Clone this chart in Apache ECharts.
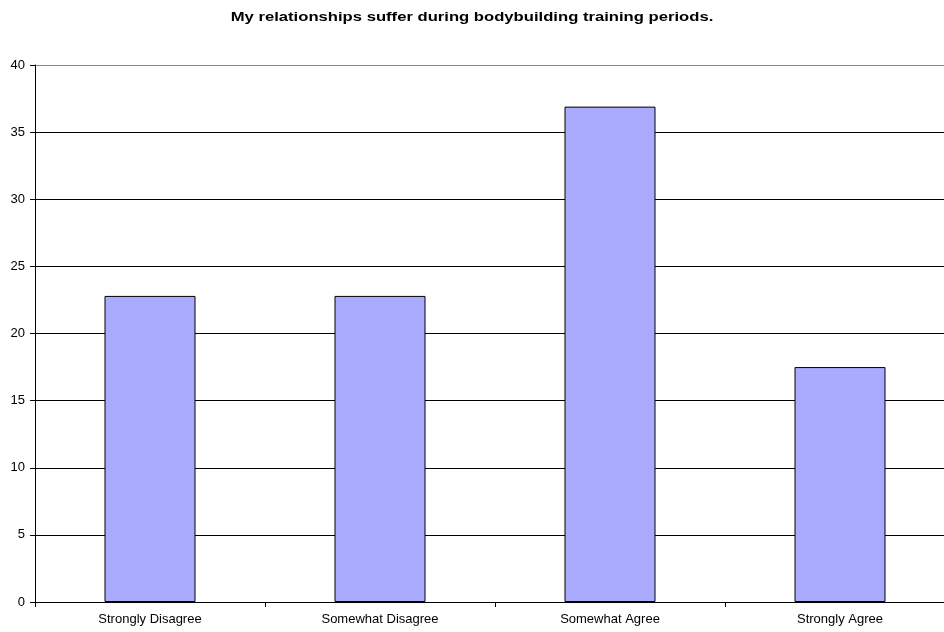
<!DOCTYPE html>
<html>
<head>
<meta charset="utf-8">
<script src="https://cdn.jsdelivr.net/npm/echarts@6/dist/echarts.min.js"></script>
<style>
  html, body { margin: 0; padding: 0; background: #fff; }
  #chart { width: 944px; height: 632px; }
</style>
</head>
<body>
<div id="chart"></div>
<script>
// Survey responses (percent of respondents)
const titleText = 'My relationships suffer during bodybuilding training periods.';
const categories = ['Strongly Disagree', 'Somewhat Disagree', 'Somewhat Agree', 'Strongly Agree'];
const percentages = [22.8, 22.8, 36.9, 17.5];
const yTicks = [0, 5, 10, 15, 20, 25, 30, 35, 40];

const FONT = 'Liberation Sans, Arial, sans-serif';
const chart = echarts.init(document.getElementById('chart'), null, { renderer: 'canvas' });

chart.setOption({
  animation: false,
  backgroundColor: '#ffffff',
  // Title drawn as a slightly widened text element
  graphic: [{
    type: 'text',
    x: 472,
    y: 17,
    scaleX: 1.28,
    style: {
      text: titleText,
      font: 'bold 13px ' + FONT,
      fill: '#000',
      align: 'center',
      verticalAlign: 'middle'
    }
  }],
  // plot area runs a little past the right edge of the canvas
  grid: { left: 35, width: 920, top: 65, bottom: 30, containLabel: false, outerBoundsMode: 'none' },
  xAxis: {
    type: 'category',
    data: categories,
    axisLine: { show: true, lineStyle: { color: '#000', width: 1 } },
    axisTick: { show: true, alignWithLabel: false, length: 5, lineStyle: { color: '#000' } },
    axisLabel: {
      color: '#000',
      fontFamily: FONT,
      fontSize: 13,
      margin: 11
    }
  },
  yAxis: {
    type: 'value',
    min: yTicks[0],
    max: yTicks[yTicks.length - 1],
    interval: 5,
    axisLine: { show: true, lineStyle: { color: '#000', width: 1 } },
    axisTick: { show: true, inside: false, length: 5, lineStyle: { color: '#000' } },
    axisLabel: {
      color: '#000',
      fontFamily: FONT,
      fontSize: 13,
      margin: 10
    },
    splitLine: {
      show: true,
      lineStyle: {
        color: ['#000', '#000', '#000', '#000', '#000', '#000', '#000', '#000', '#888'],
        width: 1
      }
    }
  },
  series: [{
    type: 'bar',
    data: percentages,
    barWidth: 91,
    itemStyle: {
      color: '#AAAAFF',
      borderColor: '#000',
      borderWidth: 1
    }
  }]
});
</script>
</body>
</html>
